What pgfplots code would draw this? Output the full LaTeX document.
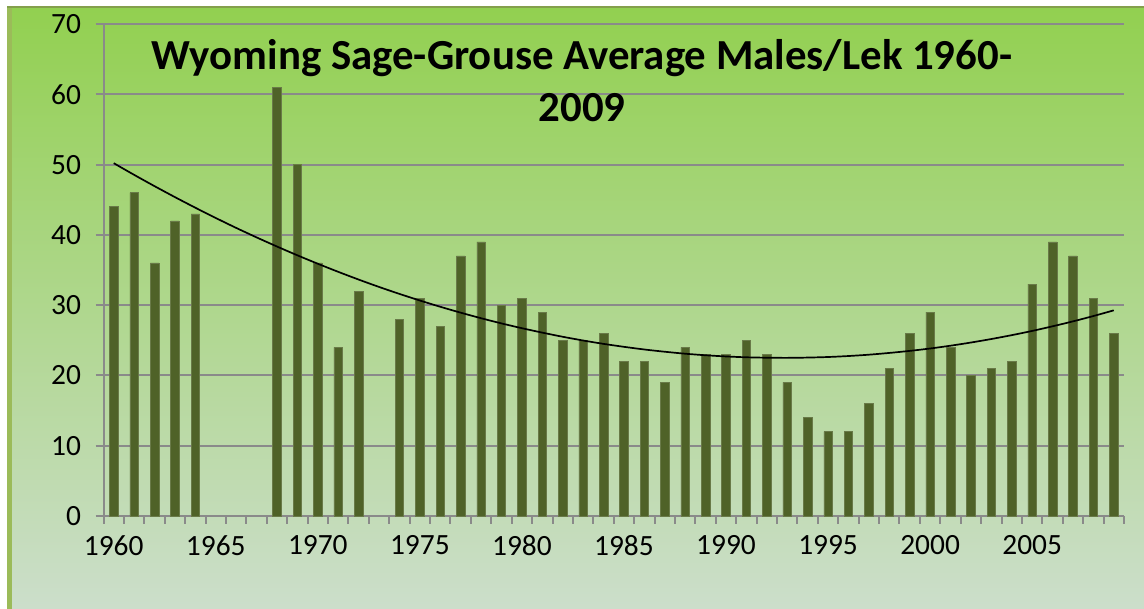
\documentclass[border=0pt]{standalone}
\usepackage{pgfplots}
\pgfplotsset{compat=1.18}
\usepackage{fontspec}
\setmainfont{Carlito}
\definecolor{bartop}{HTML}{92D050}
\definecolor{barmid}{HTML}{A6C785}
\definecolor{barbot}{HTML}{CCDECB}
\definecolor{stripe}{HTML}{9BBB59}
\definecolor{barcol}{HTML}{4F6228}
\definecolor{gridc}{HTML}{8A8A8A}
\begin{document}
\begin{tikzpicture}
\useasboundingbox (0,0) rectangle (1144bp,609bp);
\fill[white] (0,0) rectangle (1144bp,609bp);
\shade[top color=bartop, middle color=barmid, bottom color=barbot] (7bp,0) rectangle (1144bp,602bp);
\fill[stripe] (7bp,0) rectangle (12bp,602bp);
\draw[stripe!85!black, line width=1.5bp] (7bp,602bp) -- (1144bp,602bp);
\begin{axis}[
  at={(103.5bp,93bp)}, anchor=south west,
  scale only axis, width=1020.5bp, height=492bp,
  xmin=1959.5, xmax=2009.5, ymin=0, ymax=70,
  axis x line*=bottom, axis y line*=left,
  axis line style={gridc, line width=2bp, -},
  xtick={1960,1965,...,2005},
  minor xtick={1959.5,1960.5,...,2009.5},
  major x tick style={draw=none},
  minor x tick style={gridc, line width=2bp},
  minor tick length=8bp,
  ytick={0,10,...,70},
  major tick length=8bp,
  y tick style={gridc, line width=2bp},
  tick align=outside,
  ymajorgrids, grid style={gridc, line width=2bp},
  tick label style={font=\fontsize{29.5}{33}\selectfont},
  xticklabel style={yshift=-8bp},
  yticklabel style={xshift=-11bp},
  /pgf/number format/assume math mode=true,
  /pgf/number format/1000 sep={},
  clip=false,
]
\addplot[ybar, bar width=8.5bp, bar shift=0pt, fill=barcol, draw=barcol!85!white, line width=0.5bp] coordinates {
(1960,44) (1961,46) (1962,36) (1963,42) (1964,43)
(1968,61) (1969,50) (1970,36) (1971,24) (1972,32)
(1974,28) (1975,31) (1976,27) (1977,37) (1978,39) (1979,30)
(1980,31) (1981,29) (1982,25) (1983,25) (1984,26) (1985,22) (1986,22) (1987,19) (1988,24) (1989,23)
(1990,23) (1991,25) (1992,23) (1993,19) (1994,14) (1995,12) (1996,12) (1997,16) (1998,21) (1999,26)
(2000,29) (2001,24) (2002,20) (2003,21) (2004,22) (2005,33) (2006,39) (2007,37) (2008,31) (2009,26)
};
\addplot[black, line width=1.7bp, smooth, no marks] coordinates {
(1960,50.20) (1961,48.54) (1962,46.93) (1963,45.37) (1964,43.86) (1965,42.40) (1966,40.99) (1967,39.64) (1968,38.34) (1969,37.09)
(1970,35.89) (1971,34.74) (1972,33.64) (1973,32.59) (1974,31.60) (1975,30.66) (1976,29.77) (1977,28.93) (1978,28.14) (1979,27.40)
(1980,26.72) (1981,26.09) (1982,25.50) (1983,24.97) (1984,24.49) (1985,24.07) (1986,23.69) (1987,23.37) (1988,23.09) (1989,22.87)
(1990,22.70) (1991,22.58) (1992,22.52) (1993,22.50) (1994,22.54) (1995,22.62) (1996,22.76) (1997,22.95) (1998,23.20) (1999,23.49)
(2000,23.83) (2001,24.23) (2002,24.68) (2003,25.18) (2004,25.73) (2005,26.33) (2006,26.99) (2007,27.69) (2008,28.45) (2009,29.26)
};
\end{axis}
\node[anchor=base, font=\fontsize{43}{50}\selectfont\bfseries] at (582bp,539bp) {Wyoming Sage-Grouse Average Males/Lek 1960-};
\node[anchor=base, font=\fontsize{43}{50}\selectfont\bfseries] at (582bp,487bp) {2009};
\end{tikzpicture}
\end{document}
